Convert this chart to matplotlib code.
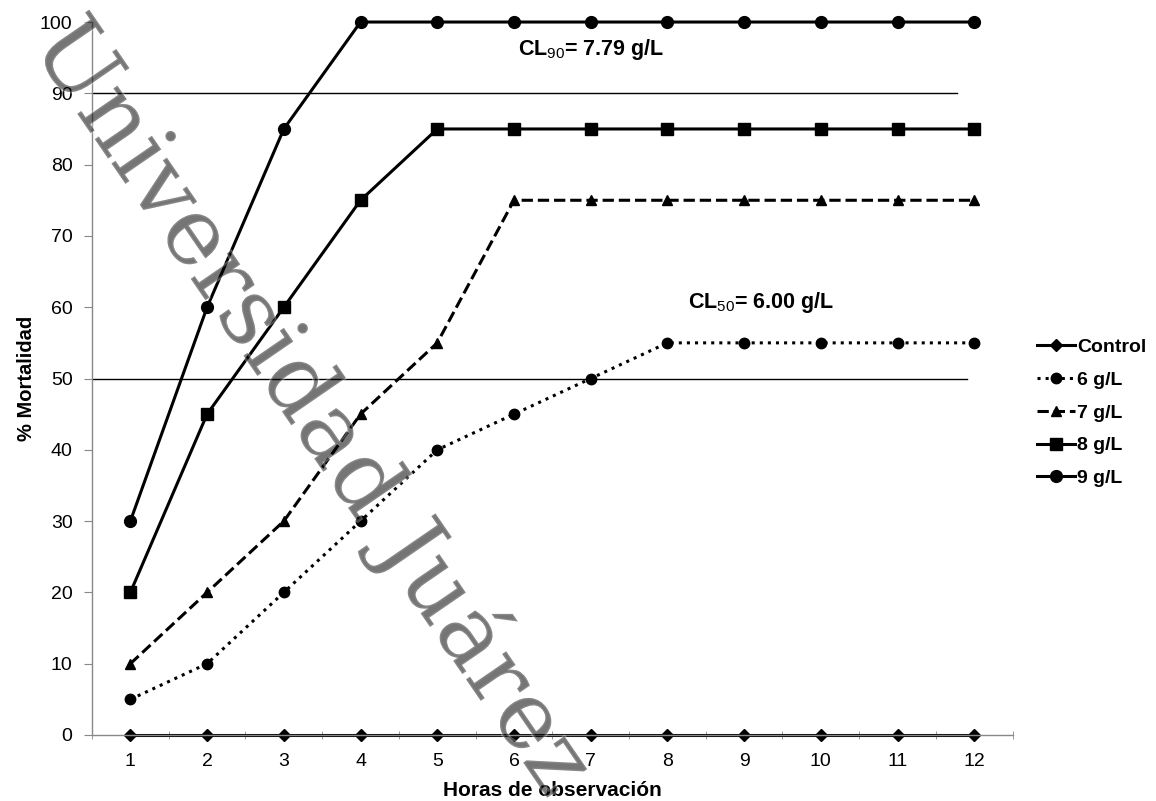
import numpy as np
import matplotlib
matplotlib.use("Agg")
from matplotlib import pyplot as plt
import matplotlib.patheffects as pe

plt.rcParams['font.family'] = ['Liberation Sans', 'DejaVu Sans']
plt.rcParams['mathtext.fontset'] = 'custom'
plt.rcParams['mathtext.rm'] = 'Liberation Sans'
plt.rcParams['mathtext.bf'] = 'Liberation Sans:bold'
plt.rcParams['mathtext.default'] = 'rm'

horas = [1, 2, 3, 4, 5, 6, 7, 8, 9, 10, 11, 12]
control = [0, 0, 0, 0, 0, 0, 0, 0, 0, 0, 0, 0]
g6 = [5, 10, 20, 30, 40, 45, 50, 55, 55, 55, 55, 55]
g7 = [10, 20, 30, 45, 55, 75, 75, 75, 75, 75, 75, 75]
g8 = [20, 45, 60, 75, 85, 85, 85, 85, 85, 85, 85, 85]
g9 = [30, 60, 85, 100, 100, 100, 100, 100, 100, 100, 100, 100]
yticks = [0, 10, 20, 30, 40, 50, 60, 70, 80, 90, 100]

fig = plt.figure(figsize=(11.56, 8.01), dpi=100)
ax = fig.add_axes([0.0796, 0.0824, 0.7964, 0.8901])

# lineas de referencia CL90 y CL50
ax.plot([0.5, 11.78], [90, 90], color='black', lw=1.0)
ax.plot([0.5, 11.91], [50, 50], color='black', lw=1.0)

ax.plot(horas, control, '-', color='black', lw=2.2, marker='D', ms=6.5, label='Control', clip_on=False)
ax.plot(horas, g6, ':', color='black', lw=2.2, marker='o', ms=7.5, label='6 g/L', clip_on=False)
ax.plot(horas, g7, '--', color='black', lw=2.2, marker='^', ms=7.5, label='7 g/L', clip_on=False)
ax.plot(horas, g8, '-', color='black', lw=2.2, marker='s', ms=8.5, label='8 g/L', clip_on=False)
ax.plot(horas, g9, '-', color='black', lw=2.2, marker='o', ms=8.5, label='9 g/L', clip_on=False)

ax.set_xlim(0.5, 12.5)
ax.set_ylim(0, 100)
ax.set_yticks(yticks)
ax.set_xticks(horas)
ax.set_xticks(np.arange(0.5, 13, 1), minor=True)
ax.tick_params(axis='x', which='major', length=0, labelsize=14, pad=13)
ax.tick_params(axis='x', which='minor', length=6, color='#888888', direction='inout')
ax.tick_params(axis='y', length=6, color='#888888', labelsize=14, direction='out', pad=8)
for s in ['top', 'right']:
    ax.spines[s].set_visible(False)
for s in ['left', 'bottom']:
    ax.spines[s].set_color('#888888')
    ax.spines[s].set_linewidth(1.0)

ax.set_xlabel('Horas de observación', fontsize=15, fontweight='bold', labelpad=8)
ax.set_ylabel('% Mortalidad', fontsize=14.5, fontweight='bold', labelpad=3)

ax.text(7.0, 96.1, r'CL$_{90}$= 7.79 g/L', fontsize=15.5, fontweight='bold', ha='center', va='center')
ax.text(9.22, 60.7, r'CL$_{50}$= 6.00 g/L', fontsize=15.5, fontweight='bold', ha='center', va='center')

leg = ax.legend(loc='center left', bbox_to_anchor=(1.007, 0.452), frameon=False,
                handlelength=2.0, handletextpad=0.1, labelspacing=0.78,
                prop={'weight': 'bold', 'size': 14})

# marca de agua
fig.text(30 / 1156, 1 - 45 / 801, 'Universidad Juárez del Estado de Durango', fontsize=68,
         family='DejaVu Serif', color='black', alpha=0.32, rotation=-55.5,
         ha='left', va='baseline', rotation_mode='anchor',
         path_effects=[pe.withStroke(linewidth=2, foreground='white')])

fig.savefig('out.png', dpi=100)
